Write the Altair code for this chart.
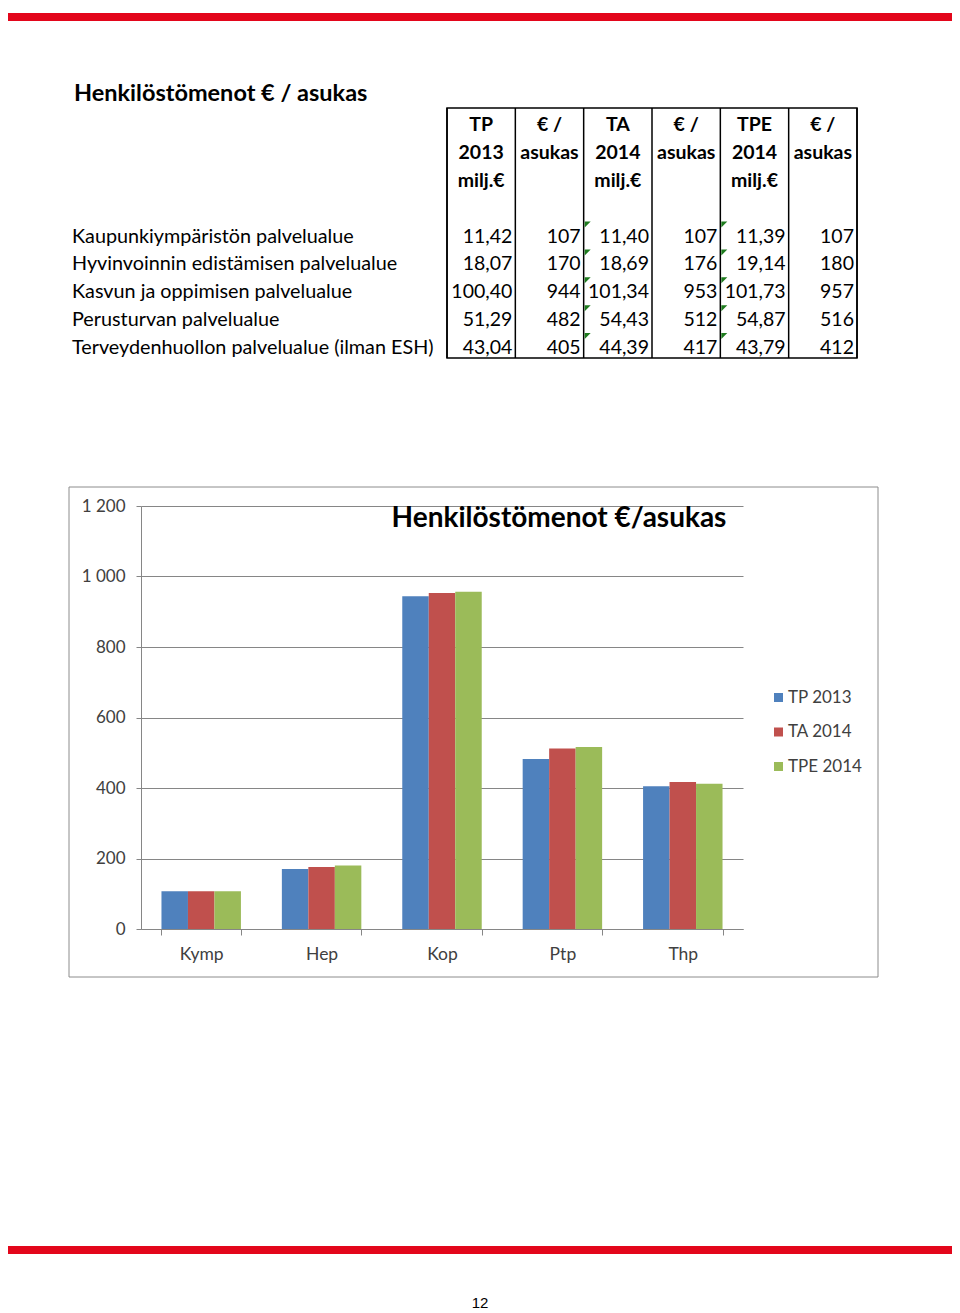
import altair as alt
import pandas as pd

# ---------------- data ----------------
page_title = "Henkilöstömenot € / asukas"
chart_title = "Henkilöstömenot €/asukas"
page_number = "12"

areas = [
    "Kaupunkiympäristön palvelualue",
    "Hyvinvoinnin edistämisen palvelualue",
    "Kasvun ja oppimisen palvelualue",
    "Perusturvan palvelualue",
    "Terveydenhuollon palvelualue (ilman ESH)",
]
units = ["Kymp", "Hep", "Kop", "Ptp", "Thp"]
series = ["TP 2013", "TA 2014", "TPE 2014"]

tp2013_milj = ["11,42", "18,07", "100,40", "51,29", "43,04"]
tp2013_asukas = [107, 170, 944, 482, 405]
ta2014_milj = ["11,40", "18,69", "101,34", "54,43", "44,39"]
ta2014_asukas = [107, 176, 953, 512, 417]
tpe2014_milj = ["11,39", "19,14", "101,73", "54,87", "43,79"]
tpe2014_asukas = [107, 180, 957, 516, 412]

header_lines = [
    ["TP", "2013", "milj.€"],
    ["€ /", "asukas"],
    ["TA", "2014", "milj.€"],
    ["€ /", "asukas"],
    ["TPE", "2014", "milj.€"],
    ["€ /", "asukas"],
]
flag_columns = [3, 5]  # cells carrying the green Excel indicator

y_ticks = [0, 200, 400, 600, 800, 1000, 1200]
bar_colors = ["#4F81BD", "#C0504D", "#9BBB59"]
RED = "#E3061B"
FONT = "Lato"

# ---------------- tables for the library ----------------
per_capita = [tp2013_asukas, ta2014_asukas, tpe2014_asukas]
bars_df = pd.DataFrame(
    [{"unit": u, "series": s, "value": per_capita[j][i]}
     for j, s in enumerate(series) for i, u in enumerate(units)]
)

columns = [tp2013_milj, [str(v) for v in tp2013_asukas], ta2014_milj,
           [str(v) for v in ta2014_asukas], tpe2014_milj,
           [str(v) for v in tpe2014_asukas]]
FIRST_DATA_ROW = 4
cells_df = pd.DataFrame(
    [{"row": FIRST_DATA_ROW + r, "col": c + 1, "text": columns[c][r]}
     for c in range(6) for r in range(len(areas))]
)
header_df = pd.DataFrame(
    [{"row": k, "col": c + 0.5, "text": t}
     for c, lines in enumerate(header_lines) for k, t in enumerate(lines)]
)
labels_df = pd.DataFrame(
    [{"row": FIRST_DATA_ROW + r, "text": a} for r, a in enumerate(areas)]
)
borders_df = pd.DataFrame({"b": list(range(7))})
flags_df = pd.DataFrame(
    [{"row": FIRST_DATA_ROW + r, "b": c - 1}
     for c in flag_columns for r in range(len(areas))]
)

# table scales (plot-relative pixels)
col_scale = alt.Scale(domain=[0, 6], range=[306, 716], nice=False, zero=False)
row_scale = alt.Scale(domain=[0, 8], range=[-375, -152], nice=False, zero=False)

one = alt.Data(values=[{}])

# ---------------- bar chart ----------------
bars = alt.Chart(bars_df).mark_bar().encode(
    x=alt.X("unit:N", sort=units,
            scale=alt.Scale(paddingInner=0.34, paddingOuter=0.17),
            axis=alt.Axis(title=None, labelAngle=0, tickBand="extent",
                          domainColor="#868686", tickColor="#868686",
                          tickSize=6, labelPadding=10, labelFontSize=17.5,
                          labelFont=FONT, labelColor="#404040", grid=False)),
    xOffset=alt.XOffset("series:N", sort=series,
                        scale=alt.Scale(paddingInner=0, paddingOuter=0)),
    y=alt.Y("value:Q", scale=alt.Scale(domain=[0, 1200], nice=False),
            axis=alt.Axis(title=None, values=y_ticks,
                          labelExpr="replace(format(datum.value, ','), ',', ' ')",
                          grid=True, gridColor="#868686", domainColor="#868686",
                          tickColor="#868686", tickSize=5, labelPadding=11,
                          labelFontSize=17, labelFont=FONT, labelColor="#404040")),
    color=alt.Color("series:N", sort=series,
                    scale=alt.Scale(domain=series, range=bar_colors),
                    legend=alt.Legend(title=None, orient="none", legendX=629,
                                      legendY=183, symbolType="square",
                                      symbolSize=81, symbolStrokeWidth=0,
                                      labelFontSize=17, labelFont=FONT,
                                      labelColor="#404040", rowPadding=16.5,
                                      labelOffset=1, padding=0)),
)

frame = alt.Chart(one).mark_rect(filled=False, stroke="#8C8C8C", strokeWidth=1).encode(
    x=alt.value(-72), x2=alt.value(737), y=alt.value(-19), y2=alt.value(471)
)

ctitle = alt.Chart(pd.DataFrame({"t": [chart_title]})).mark_text(
    font=FONT, fontWeight="bold", fontSize=28, align="center",
    baseline="alphabetic", color="#000000"
).encode(x=alt.value(418), y=alt.value(21), text="t:N")

# ---------------- page decorations ----------------
top_bar = alt.Chart(one).mark_rect(color=RED).encode(
    x=alt.value(-133), x2=alt.value(811), y=alt.value(-493), y2=alt.value(-485)
)
bottom_bar = alt.Chart(one).mark_rect(color=RED).encode(
    x=alt.value(-133), x2=alt.value(811), y=alt.value(740), y2=alt.value(748)
)
ptitle = alt.Chart(pd.DataFrame({"t": [page_title]})).mark_text(
    font=FONT, fontWeight="bold", fontSize=23.5, align="left",
    baseline="alphabetic", color="#000000"
).encode(x=alt.value(-67), y=alt.value(-405), text="t:N")

pnum = alt.Chart(pd.DataFrame({"t": [page_number]})).mark_text(
    font="Liberation Sans", fontSize=15, align="center",
    baseline="alphabetic", color="#000000"
).encode(x=alt.value(339), y=alt.value(802), text="t:N")

# ---------------- table ----------------
box = alt.Chart(one).mark_rect(filled=False, stroke="#000000", strokeWidth=1.5).encode(
    x=alt.value(306), x2=alt.value(716), y=alt.value(-398), y2=alt.value(-148)
)
vlines = alt.Chart(borders_df).mark_rule(color="#000000", strokeWidth=1.5).encode(
    x=alt.X("b:Q", scale=col_scale, axis=None),
    y=alt.value(-398), y2=alt.value(-148)
)
flags = alt.Chart(flags_df).mark_point(
    shape="M-1,-1L1,-1L-1,1Z", size=36, filled=True, color="#1E7B1E",
    opacity=1, xOffset=4, yOffset=-18
).encode(
    x=alt.X("b:Q", scale=col_scale, axis=None),
    y=alt.Y("row:Q", scale=row_scale, axis=None),
)
header_txt = alt.Chart(header_df).mark_text(
    font=FONT, fontWeight="bold", fontSize=19.5, align="center",
    baseline="alphabetic", color="#000000"
).encode(
    x=alt.X("col:Q", scale=col_scale, axis=None),
    y=alt.Y("row:Q", scale=row_scale, axis=None),
    text="text:N",
)
cell_txt = alt.Chart(cells_df).mark_text(
    font=FONT, fontSize=19.5, align="right", baseline="alphabetic",
    color="#000000", dx=-3
).encode(
    x=alt.X("col:Q", scale=col_scale, axis=None),
    y=alt.Y("row:Q", scale=row_scale, axis=None),
    text="text:N",
)
label_txt = alt.Chart(labels_df).mark_text(
    font=FONT, fontSize=19.8, align="left", baseline="alphabetic", color="#000000"
).encode(
    x=alt.value(-69),
    y=alt.Y("row:Q", scale=row_scale, axis=None),
    text="text:N",
)

chart = alt.layer(
    bars, frame, ctitle, top_bar, bottom_bar, ptitle, pnum,
    box, vlines, flags, header_txt, cell_txt, label_txt,
).resolve_scale(
    x="independent", y="independent"
).properties(
    width=602, height=423,
    padding={"left": 133, "top": 498, "right": 209, "bottom": 384},
    autosize=alt.AutoSizeParams(type="none"),
    background="white",
).configure_view(strokeWidth=0)

chart.save("out.html", embed_options={"renderer": "svg", "actions": False})
